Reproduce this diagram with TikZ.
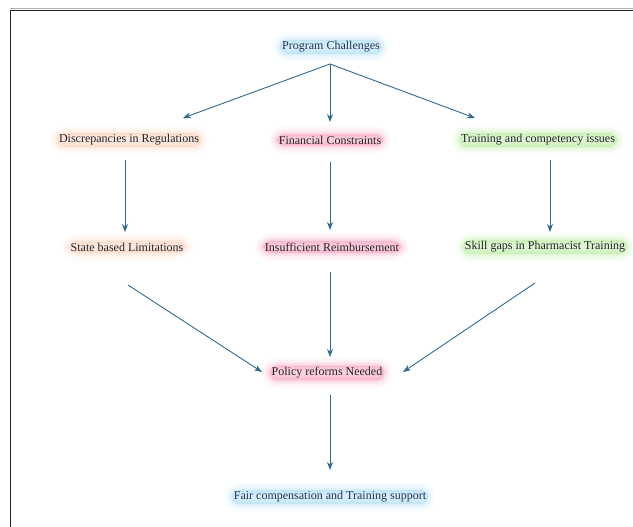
\documentclass[tikz,border=0pt]{standalone}
\usepackage{fontspec}
\setmainfont{Liberation Serif}
\usetikzlibrary{arrows.meta}
\definecolor{arrowc}{HTML}{2E6A8E}
\definecolor{gblue}{HTML}{9FD6F5}
\definecolor{gpeach}{HTML}{F9C9AC}
\definecolor{gpink}{HTML}{F58FAE}
\definecolor{ggreen}{HTML}{AEE88E}
\definecolor{txt}{HTML}{23232E}
\definecolor{txtblue}{HTML}{1F3550}
\tikzset{
  glow/.style={font=\fontsize{12}{14}\selectfont, text=txt, inner xsep=2pt, inner ysep=1.5pt, rounded corners=8pt,
    preaction={fill=#1, draw=#1, line width=16pt, opacity=0.06},
    preaction={fill=#1, draw=#1, line width=11pt, opacity=0.08},
    preaction={fill=#1, draw=#1, line width=7pt, opacity=0.12},
    preaction={fill=#1, draw=#1, line width=3pt, opacity=0.18}},
  arr/.style={draw=arrowc, line width=0.9pt, -{Stealth[length=8pt,width=6pt]}}
}
\begin{document}
\begin{tikzpicture}[x=1pt,y=-1pt]
\useasboundingbox (0,0) rectangle (633,527);
\draw[gray!60, line width=1pt] (10,8.8) -- (633,8.8);
\draw[black!85, line width=1.2pt] (10.6,10.4) -- (633,10.4);
\draw[black!85, line width=1.2pt] (10.6,10.4) -- (10.6,527);

\node[glow=gblue, text=txtblue] (pc) at (331,47) {Program Challenges};
\node[glow=gpeach] (dr) at (129,140) {Discrepancies in Regulations};
\node[glow=gpink] (fc) at (330,140) {Financial Constraints};
\node[glow=ggreen] (tr) at (538,140) {Training and competency issues};
\node[glow=gpeach] (sb) at (127,247) {State based Limitations};
\node[glow=gpink] (ir) at (332,247) {Insufficient Reimbursement};
\node[glow=ggreen] (sg) at (545,247) {Skill gaps in Pharmacist Training};
\node[glow=gpink] (pr) at (327,373) {Policy reforms Needed};
\node[glow=gblue, text=txtblue] (fcs) at (330,497) {Fair compensation and Training support};

\draw[arr] ([shift={(-1,17)}]pc.center) -- ([shift={(54,-22)}]dr.center);
\draw[arr] ([shift={(-1,17)}]pc.center) -- ([shift={(0,-18)}]fc.center);
\draw[arr] ([shift={(-1,17)}]pc.center) -- ([shift={(-63,-22)}]tr.center);
\draw[arr] ([shift={(-4,20)}]dr.center) -- ([shift={(-2,-15)}]sb.center);
\draw[arr] ([shift={(0,22)}]fc.center) -- ([shift={(-2,-17)}]ir.center);
\draw[arr] ([shift={(12,20)}]tr.center) -- ([shift={(5,-15)}]sg.center);
\draw[arr] ([shift={(1,38)}]sb.center) -- ([shift={(-65,-1)}]pr.center);
\draw[arr] ([shift={(-2,25)}]ir.center) -- ([shift={(3,-16)}]pr.center);
\draw[arr] ([shift={(-10,36)}]sg.center) -- ([shift={(76,-1)}]pr.center);
\draw[arr] ([shift={(3,22)}]pr.center) -- ([shift={(0,-27)}]fcs.center);
\end{tikzpicture}
\end{document}
